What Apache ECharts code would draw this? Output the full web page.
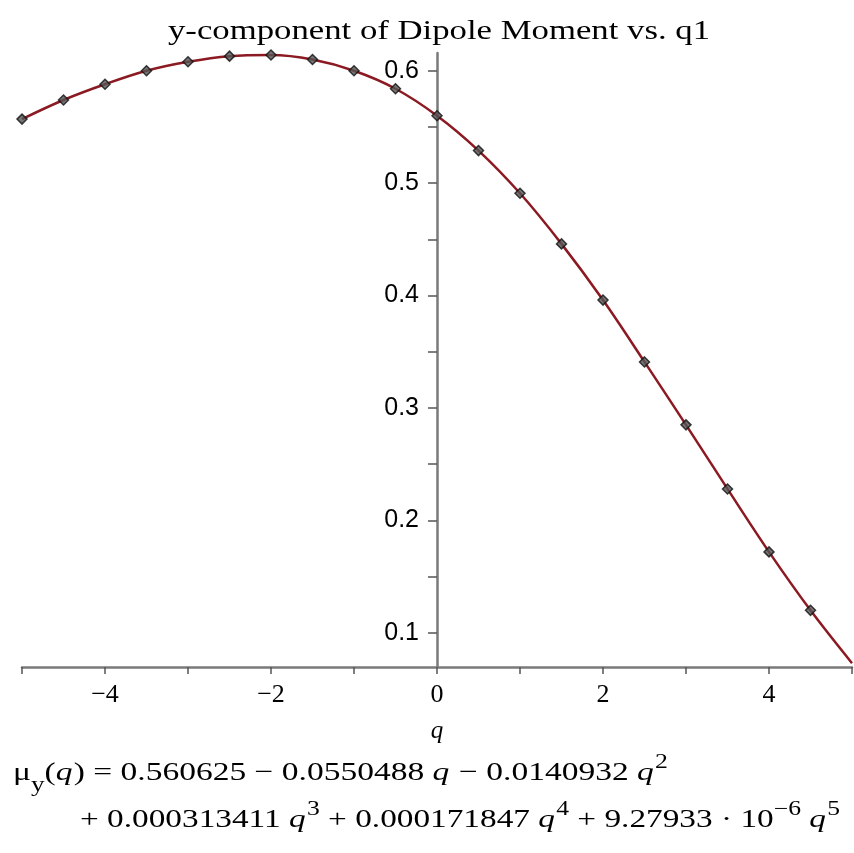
<!DOCTYPE html>
<html>
<head>
<meta charset="utf-8">
<script src="https://cdn.jsdelivr.net/npm/echarts@6/dist/echarts.min.js"></script>
<style>
  html, body { margin: 0; padding: 0; background: #ffffff; }
  #dipoleChart { width: 854px; height: 853px; }
</style>
</head>
<body>
<div id="dipoleChart"></div>
<script>
// sampled points (q, mu_y)
const qPoints = [-5, -4.5, -4, -3.5, -3, -2.5, -2, -1.5, -1, -0.5, 0, 0.5, 1, 1.5, 2, 2.5, 3, 3.5, 4, 4.5]
const muPoints = [0.557, 0.574, 0.588, 0.600, 0.608, 0.613, 0.614, 0.610, 0.600, 0.584, 0.560, 0.529, 0.491, 0.446, 0.396, 0.341, 0.285, 0.228, 0.172, 0.120]

// fitted curve
const curveQ = [-5, -4.5, -4, -3.5, -3, -2.5, -2, -1.5, -1, -0.5, 0, 0.5, 1, 1.5, 2, 2.5, 3, 3.5, 4, 4.5, 5]
const curveMu = [0.557, 0.574, 0.588, 0.600, 0.608, 0.613, 0.614, 0.610, 0.600, 0.584, 0.560, 0.529, 0.491, 0.446, 0.396, 0.341, 0.285, 0.228, 0.172, 0.120, 0.073]

// axis ticks / labels
const xTicks = [-5, -4, -3, -2, -1, 0, 1, 2, 3, 4, 5]
const xLabels = [-4, -2, 0, 2, 4]
const yTicks = [0.1, 0.15, 0.2, 0.25, 0.3, 0.35, 0.4, 0.45, 0.5, 0.55, 0.6]
const yLabels = [0.1, 0.2, 0.3, 0.4, 0.5, 0.6]

const chartTitle = "y-component of Dipole Moment vs. q1"

// fit formula, split in pieces: [text, kind]
const formulaLine1 = [
  ["μ", "n"], ["y", "sub"], ["(", "n"], ["q", "i"], [")", "n"],
  [" = 0.560625 − 0.0550488 ", "n"], ["q", "i"], [" − 0.0140932 ", "n"], ["q", "i"], ["2", "sup"]
]
const formulaLine2 = [
  ["+ 0.000313411 ", "n"], ["q", "i"], ["3", "sup"],
  [" + 0.000171847 ", "n"], ["q", "i"], ["4", "sup"],
  [" + 9.27933 · 10", "n"], ["−6", "sup"], [" ", "n"], ["q", "i"], ["5", "sup"]
]

const serif = "'Liberation Serif', 'Times New Roman', serif"
const sans = "'Liberation Sans', Arial, sans-serif"

const fmtMinus = (v) => (v < 0 ? "−" + Math.abs(v) : String(v))

// grid box (px)
const gridLeft = 22
const gridRight = 2
const gridWidth = 854 - gridLeft - gridRight

const measureCtx = document.createElement("canvas").getContext("2d")

// lay formula pieces one after another, then stretch the line to the reference width
const buildFormula = (pieces, startX, endX, baseY, size) => {
  let x = 0
  let els = []
  pieces.forEach(([t, kind]) => {
    let fs = size
    let style = "normal"
    let dy = 0
    if (kind === "i") style = "italic"
    if (kind === "sub") { fs = Math.round(size * 0.8); dy = size * 0.38 }
    if (kind === "sup") { fs = Math.round(size * 0.75); dy = -size * 0.5 }
    let font = style + " " + fs + "px " + serif
    measureCtx.font = font
    let w = measureCtx.measureText(t).width
    els.push({
      type: "text",
      x: x,
      y: dy,
      style: {
        text: t,
        font: font,
        fill: "#000000",
        verticalAlign: "bottom"
      }
    })
    x += w + (kind === "i" ? 1 : 0)
  })
  return {
    type: "group",
    x: startX,
    y: baseY,
    scaleX: (endX - startX) / x,
    children: els
  }
}

// title, stretched to the width it has in the reference
const buildTitle = (text, left, right, baseY, size) => {
  let font = "normal " + size + "px " + serif
  measureCtx.font = font
  let w = measureCtx.measureText(text).width
  return {
    type: "text",
    x: left,
    y: baseY,
    scaleX: (right - left) / w,
    style: {
      text: text,
      font: font,
      fill: "#000000",
      verticalAlign: "bottom"
    }
  }
}

const chartEl = document.getElementById("dipoleChart")
const dipoleChart = echarts.init(chartEl, null, { renderer: "canvas" })

const option = {
  backgroundColor: "#ffffff",
  animation: false,
  grid: {
    left: gridLeft,
    right: gridRight,
    top: 53,
    bottom: 186,
    containLabel: false,
    outerBoundsMode: "none"
  },
  xAxis: {
    type: "value",
    min: -5,
    max: 5,
    interval: 1,
    name: "q",
    nameLocation: "middle",
    nameGap: 52,
    nameTextStyle: {
      fontFamily: serif,
      fontStyle: "italic",
      fontSize: 25,
      color: "#000000"
    },
    splitLine: { show: false },
    axisLine: {
      onZero: false,
      lineStyle: { color: "#7a7a7a", width: 2.5 }
    },
    axisTick: {
      show: true,
      inside: false,
      length: 7,
      customValues: xTicks,
      lineStyle: { color: "#555555", width: 1.5 }
    },
    axisLabel: {
      customValues: xLabels,
      margin: 15,
      fontFamily: serif,
      fontSize: 26,
      color: "#000000",
      formatter: fmtMinus
    }
  },
  yAxis: {
    type: "value",
    min: 0.0696,
    max: 0.6158,
    // put the axis on q = 0
    position: "left",
    offset: -gridWidth / 2,
    splitLine: { show: false },
    axisLine: {
      onZero: false,
      lineStyle: { color: "#7a7a7a", width: 2.5 }
    },
    axisTick: {
      show: true,
      inside: false,
      length: 9,
      customValues: yTicks,
      lineStyle: { color: "#555555", width: 1.5 }
    },
    axisLabel: {
      customValues: yLabels,
      margin: 18,
      fontFamily: sans,
      fontSize: 25,
      color: "#000000",
      formatter: (v) => String(Math.round(v * 10) / 10)
    }
  },
  series: [
    {
      name: "fit",
      type: "line",
      data: curveQ.map((q, i) => [q, curveMu[i]]),
      smooth: 0.35,
      symbol: "none",
      clip: true,
      z: 2,
      lineStyle: { color: "#8b1a22", width: 2.5 }
    },
    {
      name: "points",
      type: "scatter",
      data: qPoints.map((q, i) => [q, muPoints[i]]),
      symbol: "diamond",
      symbolSize: 10,
      z: 3,
      itemStyle: {
        color: "#555555",
        borderColor: "#111111",
        borderWidth: 1.5
      }
    }
  ],
  graphic: [
    buildTitle(chartTitle, 168, 710, 45, 27),
    buildFormula(formulaLine1, 13, 668, 786, 26),
    buildFormula(formulaLine2, 80, 840, 833, 26)
  ]
}

dipoleChart.setOption(option)
</script>
</body>
</html>
